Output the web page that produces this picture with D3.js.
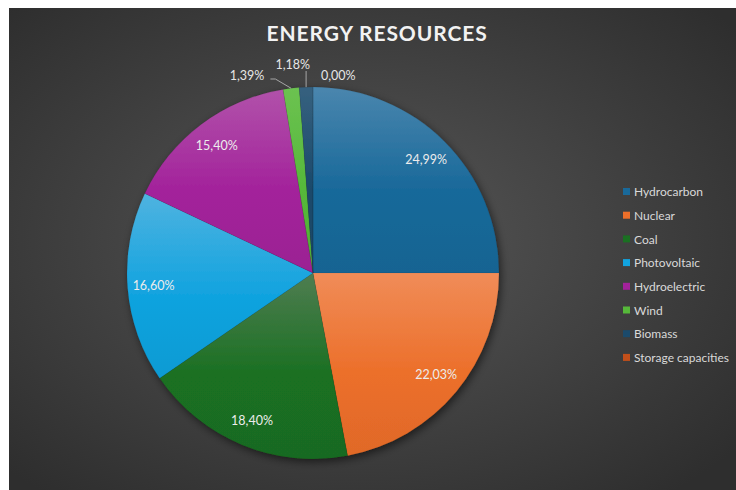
<!DOCTYPE html>
<html>
<head>
<meta charset="utf-8">
<script src="https://cdn.jsdelivr.net/npm/d3@7"></script>
<style>
  html, body { margin: 0; padding: 0; background: #ffffff; }
  svg { display: block; }
</style>
</head>
<body>
<svg id="chart" width="736" height="490"></svg>
<script>
// Energy resource shares (%)
const categories = ["Hydrocarbon", "Nuclear", "Coal", "Photovoltaic", "Hydroelectric", "Wind", "Biomass", "Storage capacities"];
const shares = [24.99, 22.03, 18.40, 16.60, 15.40, 1.39, 1.18, 0.00];
const chartTitle = "ENERGY RESOURCES";

// Slice fills: base colour and the lighter tone at the top of each slice
const sliceColors = ["#19699a", "#ec6f2a", "#1a7022", "#11a3df", "#a3229b", "#56b83a", "#1b4a6b", "#c24f1a"];
const sliceTops   = ["#4a86ae", "#f08c58", "#4f7d51", "#4fb3e0", "#b152aa", "#6cc251", "#36617f", "#cf6a3a"];

const W = 736, H = 490;
const frame = { x: 9, y: 8 };
const cx = 313, cy = 273, R = 186;
const fmt = v => v.toFixed(2).replace(".", ",") + "%";

const svg = d3.select("#chart");
const defs = svg.append("defs");

// Dark chart area with a soft lighter centre
const bg = defs.append("radialGradient").attr("id", "bg")
  .attr("cx", "48%").attr("cy", "48%").attr("r", "68%");
bg.append("stop").attr("offset", "0%").attr("stop-color", "#575757");
bg.append("stop").attr("offset", "100%").attr("stop-color", "#2e2e2e");

svg.append("rect")
  .attr("x", frame.x).attr("y", frame.y)
  .attr("width", W - frame.x).attr("height", H - frame.y)
  .attr("fill", "url(#bg)");

// Drop shadow under the pie
const sh = defs.append("filter").attr("id", "shadow")
  .attr("x", "-20%").attr("y", "-20%").attr("width", "140%").attr("height", "140%");
sh.append("feDropShadow").attr("dx", 2).attr("dy", 3).attr("stdDeviation", 4)
  .attr("flood-color", "#000").attr("flood-opacity", 0.55);

// One vertical gradient per slice
categories.forEach((c, i) => {
  const g = defs.append("linearGradient").attr("id", "sg" + i)
    .attr("x1", 0).attr("y1", 0).attr("x2", 0).attr("y2", 1);
  g.append("stop").attr("offset", "0%").attr("stop-color", sliceTops[i]);
  g.append("stop").attr("offset", "55%").attr("stop-color", sliceColors[i]);
  g.append("stop").attr("offset", "100%").attr("stop-color", d3.color(sliceColors[i]).darker(0.15));
});

// Title
svg.append("text")
  .attr("x", 377).attr("y", 41)
  .attr("text-anchor", "middle")
  .attr("font-family", "Lato, 'Open Sans', sans-serif")
  .attr("font-weight", 700)
  .attr("font-size", 21)
  .attr("letter-spacing", 0.9)
  .attr("fill", "#f2f2f2")
  .text(chartTitle);

// Pie
const pie = d3.pie().sort(null).value(d => d).startAngle(0).endAngle(2 * Math.PI);
const arcs = pie(shares).map((d, i) => Object.assign(d, { index: i }));
const arc = d3.arc().innerRadius(0).outerRadius(R);

const pieG = svg.append("g")
  .attr("transform", `translate(${cx},${cy})`)
  .attr("filter", "url(#shadow)");

pieG.selectAll("path").data(arcs).join("path")
  .attr("d", arc)
  .attr("fill", d => `url(#sg${d.index})`)
  .attr("stroke", "rgba(0,0,0,0.12)")
  .attr("stroke-width", 0.5);

// Inside labels for large slices
const labelFont = "Lato, 'Open Sans', sans-serif";
const inArc = d3.arc().innerRadius(R * 0.86).outerRadius(R * 0.86);
const isSmall = d => (d.endAngle - d.startAngle) < 0.05 * 2 * Math.PI;

svg.append("g").attr("transform", `translate(${cx},${cy})`)
  .selectAll("text").data(arcs.filter(d => !isSmall(d))).join("text")
  .attr("x", d => inArc.centroid(d)[0])
  .attr("y", d => inArc.centroid(d)[1])
  .attr("dy", "0.35em")
  .attr("text-anchor", "middle")
  .attr("font-family", labelFont)
  .attr("font-size", 12.5)
  .attr("fill", "#ececec")
  .text(d => fmt(d.data));

// Outside labels for thin slices, spread leftwards from the top of the pie
const outG = svg.append("g");
const small = arcs.filter(isSmall).sort((a, b) => b.startAngle - a.startAngle);
const baseY = cy - R - 11;
let prevLeft = null;
small.forEach((d, k) => {
  const mid = (d.startAngle + d.endAngle) / 2;
  const ax = cx + R * Math.sin(mid), ay = cy - R * Math.cos(mid);
  const t = outG.append("text")
    .attr("font-family", labelFont)
    .attr("font-size", 12.5)
    .attr("fill", "#e6e6e6")
    .attr("dy", "0.35em")
    .text(fmt(d.data));
  const w = t.node().getComputedTextLength();
  const left = k === 0 ? ax + 8 : prevLeft - 11 - w;
  const ly = baseY - (k % 2 === 1 ? 11 : 0);
  t.attr("x", left).attr("y", ly);
  prevLeft = left;
  const right = left + w;
  let pts = null;
  if (ax >= left && ax <= right) {
    pts = [[ax, ay], [ax, ly + 6]];
  } else if (ax > right + 10) {
    pts = [[right + 6, ly + 3], [right + 11, ly + 3], [ax, ay]];
  } else if (ax < left - 10) {
    pts = [[left - 6, ly + 3], [left - 11, ly + 3], [ax, ay]];
  }
  if (pts) {
    outG.append("path")
      .attr("d", d3.line()(pts))
      .attr("fill", "none")
      .attr("stroke", "#a6a6a6")
      .attr("stroke-width", 1);
  }
});

// Legend
const legend = svg.append("g").attr("transform", "translate(623,192)");
const item = legend.selectAll("g").data(categories).join("g")
  .attr("transform", (d, i) => `translate(0,${i * 23.7})`);
item.append("rect")
  .attr("x", 0).attr("y", -4).attr("width", 7).attr("height", 7)
  .attr("fill", (d, i) => sliceColors[i]);
item.append("text")
  .attr("x", 11).attr("y", 0).attr("dy", "0.35em")
  .attr("font-family", labelFont)
  .attr("font-size", 12)
  .attr("fill", "#d9d9d9")
  .text(d => d);
</script>
</body>
</html>
